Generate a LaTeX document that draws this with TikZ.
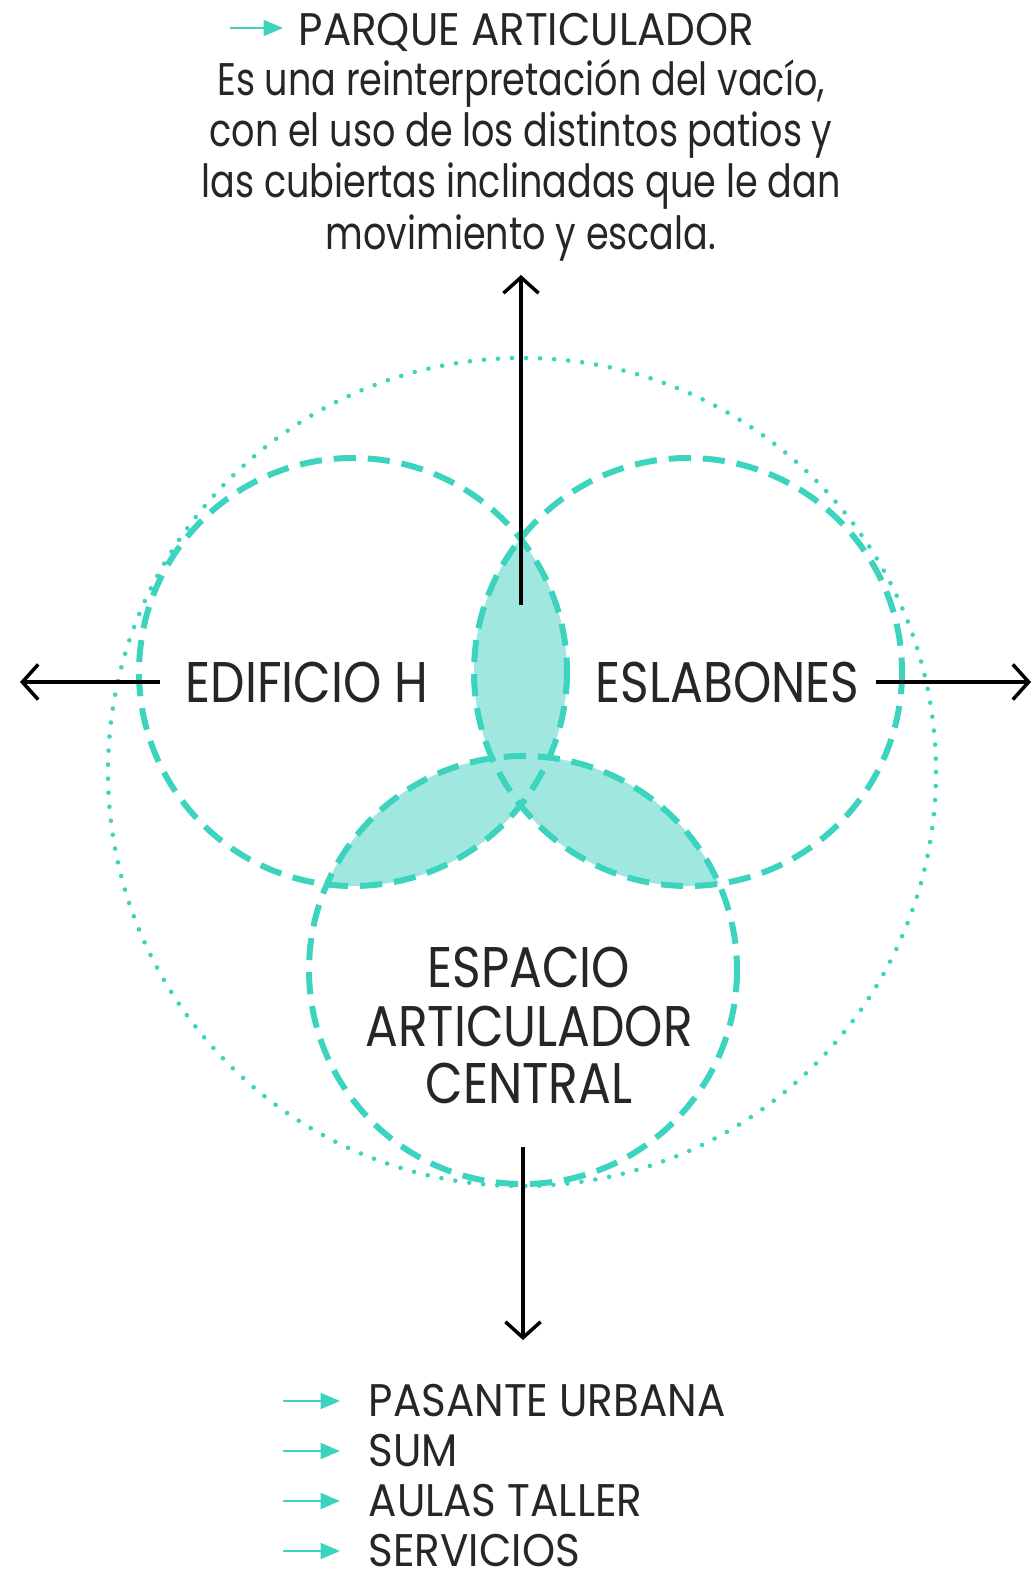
\documentclass[tikz,border=0pt]{standalone}
\usepackage{fontspec}
\setmainfont{Poppins}[FakeStretch=0.8]
\newfontfamily\capsfont{Poppins}[FakeStretch=0.92]
\newfontfamily\zonafont{Poppins}[FakeStretch=0.85]
\usetikzlibrary{arrows.meta}
\definecolor{turq}{HTML}{3CD3BF}
\definecolor{turqfill}{HTML}{A0E8DF}
\tikzset{
  ring/.style={turq, line width=1.7pt, dash pattern=on 6.3pt off 3.4pt},
  halo/.style={turq, line width=1.3pt, line cap=round, dash pattern=on 0pt off 4pt},
  flecha/.style={line width=1pt, -{Straight Barb[length=4.5pt,width=10pt]}},
  flechita/.style={turq, line width=0.6pt, -{Triangle[length=5.5pt,width=4.5pt]}},
  rotulo/.style={font=\fontsize{13}{14.5}\selectfont, inner sep=0pt, text=black!85},
  titulo/.style={font=\capsfont\fontsize{13}{14.5}\selectfont, inner sep=0pt, text=black!85},
  zona/.style={font=\zonafont\fontsize{16.3}{16.5}\selectfont, inner sep=0pt, text=black!85},
}

\begin{document}
\begin{tikzpicture}[x=0.01cm,y=-0.01cm]
\useasboundingbox (0,0) rectangle (1034,1573);

\coordinate (cH) at (353,672);
\coordinate (cE) at (688,672);
\coordinate (cC) at (523,970);
\coordinate (cP) at (522,772);

\begin{scope}
\clip (cH) circle[radius=214];
\fill[turqfill] (cE) circle[radius=214];
\fill[turqfill] (cC) circle[radius=214];
\end{scope}
\begin{scope}
\clip (cE) circle[radius=214];
\fill[turqfill] (cC) circle[radius=214];
\end{scope}

\draw[halo] (cP) circle[radius=414];
\draw[ring] (cH) circle[radius=214];
\draw[ring] (cE) circle[radius=214];
\draw[ring] (cC) circle[radius=214];

\node[titulo, anchor=base west] (parque) at (298,46) {PARQUE ARTICULADOR};
\node[rotulo, anchor=base] (linea1) at (521,96) {Es una reinterpretación del vacío,};
\node[rotulo, anchor=base] (linea2) at (521,147) {con el uso de los distintos patios y};
\node[rotulo, anchor=base] (linea3) at (521,198) {las cubiertas inclinadas que le dan};
\node[rotulo, anchor=base] (linea4) at (521,250) {movimiento y escala.};

\node[zona, anchor=base west] (edificio) at (185,702) {EDIFICIO H};
\node[zona, anchor=base east] (eslabones) at (860,702) {ESLABONES};
\node[zona, anchor=base] (espacio) at (529,987) {ESPACIO};
\node[zona, anchor=base] (articulador) at (529,1046) {ARTICULADOR};
\node[zona, anchor=base] (central) at (529,1103) {CENTRAL};

\coordinate (p0) at (230,28);
\coordinate (p1) at (283,28);
\draw[flechita] (p0) -- (p1);

\coordinate (arriba0) at (521,605);
\coordinate (arriba1) at (521,275);
\coordinate (izq0) at (160,682);
\coordinate (izq1) at (20,682);
\coordinate (der0) at (876,682);
\coordinate (der1) at (1031,682);
\coordinate (abajo0) at (523,1147);
\coordinate (abajo1) at (523,1340);
\draw[flecha] (arriba0) -- (arriba1);
\draw[flecha] (izq0) -- (izq1);
\draw[flecha] (der0) -- (der1);
\draw[flecha] (abajo0) -- (abajo1);

\foreach \item [count=\i] in {PASANTE URBANA, SUM, AULAS TALLER, SERVICIOS}{
  \node[titulo, anchor=base west] (uso\i) at (368,1366+50*\i) {\item};
  \coordinate (u\i) at (283,1351+50*\i);
  \draw[flechita] (u\i) -- ++(57,0);
}
\end{tikzpicture}
\end{document}
